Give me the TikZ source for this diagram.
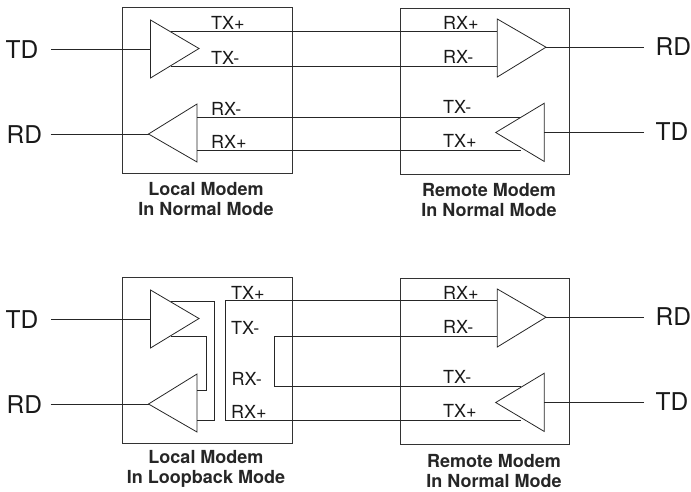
\documentclass[tikz,border=0pt]{standalone}
\usepackage{fontspec}
\setmainfont{TeX Gyre Heros}
\tikzset{
  ln/.style={draw=black!85,line width=0.8pt,line join=miter},
  boxs/.style={draw=black!80,line width=0.8pt},
  big/.style={font=\fontsize{24.5}{24.5}\selectfont,inner sep=0pt,text=black!90},
  sig/.style={font=\fontsize{18}{18}\selectfont,inner sep=0pt,anchor=west,text=black!90},
  captxt/.style={font=\bfseries\fontsize{18}{20}\selectfont,inner sep=0pt,align=center,text=black!85},
}
\newcommand{\rightpart}[1]{%
  \begin{scope}[yshift=-#1pt]
  \draw[boxs] (400,8) rectangle (569.5,174.2);
  \draw[ln] (497.3,19) coordinate (rt1) -- (497.3,77) coordinate (rt2) -- (546,47.2) coordinate (rt3) -- cycle;
  \draw[ln] (544.3,103.2) coordinate (rb1) -- (544.3,161.5) coordinate (rb2) -- (495.7,132.5) coordinate (rb3) -- cycle;
  \coordinate (rdout) at (644,47.2);
  \coordinate (tdin) at (644,132.3);
  \draw[ln] (rt3) -- (rdout);
  \draw[ln] (tdin) -- (rb1 |- tdin);
  \node[big,anchor=west] at (655.5,47) {RD};
  \node[big,anchor=west] at (655.5,131.5) {TD};
  \node[sig] at (443,22.7) {RX+};
  \node[sig] at (443,57.3) {RX-};
  \node[sig] at (443,107.3) {TX-};
  \node[sig] at (443,141) {TX+};
  \end{scope}}
\begin{document}
\begin{tikzpicture}[x=1pt,y=-1pt]
\useasboundingbox (0,0) rectangle (691,491);
% ---------- top
\rightpart{0}
\draw[boxs] (122,7) rectangle (292,173);
\draw[ln] (150.5,20) coordinate (a1) -- (150.5,78) coordinate (a2) -- (199,48.5) coordinate (a3) -- cycle;
\draw[ln] (197,104) coordinate (b1) -- (197,162) coordinate (b2) -- (148.5,134) coordinate (b3) -- cycle;
\coordinate (tdL) at (51,49.3);
\coordinate (rdL) at (50.5,134);
\draw[ln] (tdL) -- (a1 |- tdL);
\draw[ln] (rdL) -- (b3);
\draw[ln] (171,31.3) -- (497.3,31.3);
\draw[ln] (171,66.7) -- (497.3,66.7);
\draw[ln] (197,117) -- (521,117);
\draw[ln] (197,150) -- (521,150);
\node[big,anchor=west] at (5.5,50) {TD};
\node[big,anchor=west] at (6.5,135) {RD};
\node[sig] at (211,22.5) {TX+};
\node[sig] at (211,57.5) {TX-};
\node[sig] at (211,108.5) {RX-};
\node[sig] at (211,141.5) {RX+};
\node[captxt] at (206,199) {Local Modem\\In Normal Mode};
\node[captxt] at (489,200) {Remote Modem\\In Normal Mode};
% ---------- bottom
\rightpart{270}
\draw[boxs] (122,277) rectangle (292,443);
\draw[ln] (150.5,290) coordinate (c1) -- (150.5,348) coordinate (c2) -- (199,318.5) coordinate (c3) -- cycle;
\draw[ln] (197,374) coordinate (d1) -- (197,432) coordinate (d2) -- (148.5,404) coordinate (d3) -- cycle;
\coordinate (tdM) at (51,319.3);
\coordinate (rdM) at (50.5,404);
\draw[ln] (tdM) -- (c1 |- tdM);
\draw[ln] (rdM) -- (d3);
\draw[ln] (171,301) -- (214.5,301) -- (214.5,420) -- (197,420);
\draw[ln] (171,336) -- (206.5,336) -- (206.5,390.5) -- (197,390.5);
\draw[ln] (497.3,300.7) -- (225.5,300.7) -- (225.5,420) -- (521,420);
\draw[ln] (497.3,336.3) -- (274,336.3) -- (274,386.7) -- (521,386.7);
\node[big,anchor=west] at (5.5,320) {TD};
\node[big,anchor=west] at (6.5,405) {RD};
\node[sig] at (231,292.5) {TX+};
\node[sig] at (231,327.5) {TX-};
\node[sig] at (231.5,378.5) {RX-};
\node[sig] at (231,411.5) {RX+};
\node[captxt] at (206,469) {Local Modem\\In Loopback Mode};
\node[captxt] at (494,471) {Remote Modem\\In Normal Mode};
\end{tikzpicture}
\end{document}
